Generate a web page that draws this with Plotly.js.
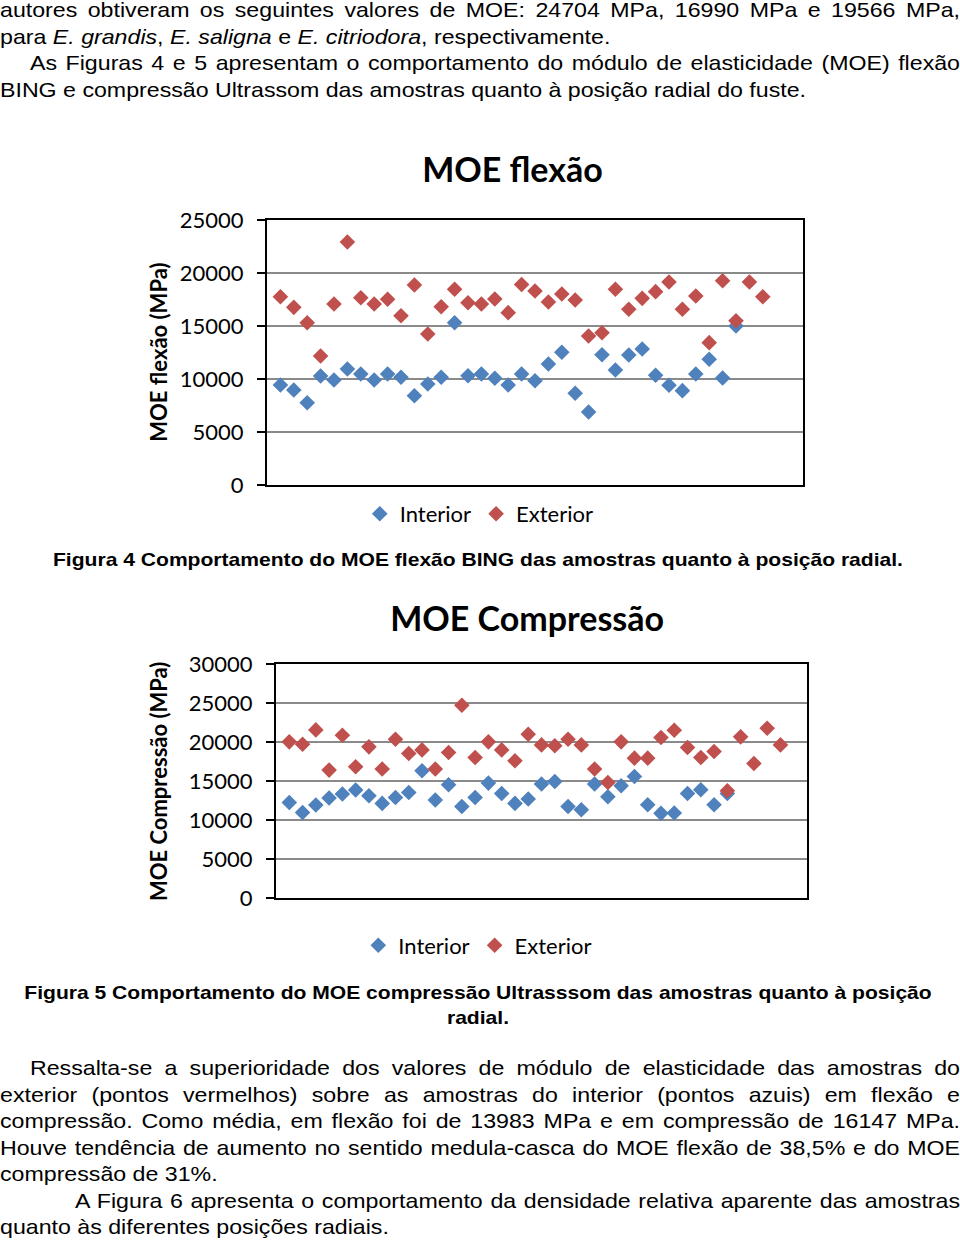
<!DOCTYPE html>
<html><head><meta charset="utf-8">
<script src="https://cdn.plot.ly/plotly-3.0.1.min.js"></script>
<style>
body{margin:0;width:960px;height:1244px;background:#fff;position:relative;overflow:hidden;font-family:"Liberation Sans",Arial,sans-serif;color:#000}
.blk{position:absolute;left:0;transform-origin:0 0;}
.ln{height:26.5px;line-height:26.5px;font-size:21px;white-space:normal;overflow:visible}
.j{text-align:justify;text-align-last:justify;}
.cap{position:absolute;left:0;transform-origin:0 0;font-weight:bold;font-size:19px;text-align:center;line-height:25px}
.chart{position:absolute;left:0;width:960px}
</style></head>
<body>
<div class="blk" id="p1" style="top:-3px">
  <div class="ln j">autores obtiveram os seguintes valores de MOE: 24704 MPa, 16990 MPa e 19566 MPa,</div>
  <div class="ln">para <i>E. grandis</i>, <i>E. saligna</i> e <i>E. citriodora</i>, respectivamente.</div>
  <div class="ln j ind1">As Figuras 4 e 5 apresentam o comportamento do módulo de elasticidade (MOE) flexão</div>
  <div class="ln" id="ref">BING e compressão Ultrassom das amostras quanto à posição radial do fuste.</div>
</div>
<div id="c1" class="chart" style="top:130px;height:420px"></div>
<div class="cap" id="cap4" style="top:547px">Figura 4 Comportamento do MOE flexão BING das amostras quanto à posição radial.</div>
<div id="c2" class="chart" style="top:590px;height:390px"></div>
<div class="cap" id="cap5" style="top:980px">Figura 5 Comportamento do MOE compressão Ultrasssom das amostras quanto à posição<br>radial.</div>
<div class="blk" id="p2" style="top:1055px">
  <div class="ln j ind1">Ressalta-se a superioridade dos valores de módulo de elasticidade das amostras do</div>
  <div class="ln j">exterior (pontos vermelhos) sobre as amostras do interior (pontos azuis) em flexão e</div>
  <div class="ln j">compressão. Como média, em flexão foi de 13983 MPa e em compressão de 16147 MPa.</div>
  <div class="ln j">Houve tendência de aumento no sentido medula-casca do MOE flexão de 38,5% e do MOE</div>
  <div class="ln">compressão de 31%.</div>
  <div class="ln j ind2">A Figura 6 apresenta o comportamento da densidade relativa aparente das amostras</div>
  <div class="ln">quanto às diferentes posições radiais.</div>
</div>
<script>
// ---- Data: Figura 4 (MOE flexão, MPa) ----
const flexInteriorX = [1,2,3,4,5,6,7,8,9,10,11,12,13,14,15,16,17,18,19,20,21,22,23,24,25,26,27,28,29,30,31,32,33,34,35];
const flexInterior = [9430,8960,7760,10280,9900,10940,10470,9900,10470,10160,8420,9530,10160,15310,10310,10470,10070,9430,10470,9840,11420,12520,8650,6890,12290,10850,12260,12830,10350,9410,8900,10470,11860,10090,15000];
const flexExteriorX = [1,2,3,4,5,6,7,8,9,10,11,12,13,14,15,16,17,18,19,20,21,22,23,24,25,26,27,28,29,30,31,32,33,34,35,36,37];
const flexExterior = [17760,16760,15310,12170,17080,22930,17670,17080,17520,15970,18870,14250,16820,18460,17200,17080,17550,16260,18920,18300,17260,18020,17450,14060,14370,18460,16580,17610,18240,19150,16580,17830,13430,19270,15500,19150,17760];
// ---- Data: Figura 5 (MOE Compressão, MPa) ----
const compInteriorX = [1,2,3,4,5,6,7,8,9,10,11,12,13,14,15,16,17,18,19,20,21,22,23,24,25,26,27,28,29,30,31,32,33,34];
const compInterior = [12250,10970,11920,12820,13330,13840,13110,12130,12890,13530,16310,12560,14520,11740,12890,14730,13400,12130,12690,14610,14940,11740,11320,14610,12980,14390,15580,11960,10850,10900,13400,13880,11960,13400];
const compExteriorX = [1,2,3,4,5,6,7,8,9,10,11,12,13,14,15,16,17,18,19,20,21,22,23,24,25,26,27,28,29,30,31,32,33,34,35,36,37,38];
const compExterior = [20020,19720,21550,16400,20870,16820,19380,16530,20360,18520,18990,16530,18650,24710,18010,20020,18990,17590,21000,19630,19510,20360,19630,16530,14810,20020,17930,17930,20570,21510,19290,18010,18780,13750,20660,17240,21770,19630];
const seriesNames = ['Interior','Exterior'];
const seriesColors = ['#4F81BD','#C0504D'];

// ---- text scaling to mimic the condensed page font ----
(function(){
  const ref = document.getElementById('ref');
  const span = document.createElement('span');
  span.style.cssText = 'font-size:21px;white-space:nowrap;position:absolute;visibility:hidden;font-family:"Liberation Sans",Arial,sans-serif';
  span.textContent = ref.textContent;
  document.body.appendChild(span);
  const s = 806 / span.getBoundingClientRect().width;
  document.body.removeChild(span);
  ['p1','p2'].forEach(id => {
    const el = document.getElementById(id);
    el.style.width = (960 / s) + 'px';
    el.style.transform = 'scaleX(' + s + ')';
  });
  document.querySelectorAll('.ind1').forEach(e => e.style.paddingLeft = (30 / s) + 'px');
  document.querySelectorAll('.ind2').forEach(e => e.style.paddingLeft = (75 / s) + 'px');
  const sp2 = document.createElement('span');
  sp2.style.cssText = 'font-size:19px;font-weight:bold;white-space:nowrap;position:absolute;visibility:hidden;font-family:"Liberation Sans",Arial,sans-serif';
  sp2.textContent = document.getElementById('cap4').textContent;
  document.body.appendChild(sp2);
  const c = 850 / sp2.getBoundingClientRect().width;
  document.body.removeChild(sp2);
  ['cap4','cap5'].forEach(id => {
    const el = document.getElementById(id);
    el.style.width = (956 / c) + 'px';
    el.style.transform = 'scaleX(' + c + ')';
  });
})();

function traces(xi, yi, xe, ye){
  return [
    {x: xi, y: yi, name: seriesNames[0], type:'scatter', mode:'markers',
     marker:{symbol:'diamond', size:12, color:seriesColors[0], line:{width:0}}},
    {x: xe, y: ye, name: seriesNames[1], type:'scatter', mode:'markers',
     marker:{symbol:'diamond', size:12, color:seriesColors[1], line:{width:0}}}
  ];
}
const font = {family:'Lato, "Open Sans", sans-serif', size:22, color:'#000'};
function layout(o){
  return {
    width:960, height:o.h,
    margin:{l:o.l, r:o.r, t:o.t, b:o.b, pad:0},
    paper_bgcolor:'rgba(0,0,0,0)', plot_bgcolor:'#fff',
    font: font, showlegend:true,
    title:{text:'<b>'+o.title+'</b>', font:{family:font.family, size:34, color:'#000'},
           xref:'paper', x:o.tx, xanchor:'center', yref:'container', y:o.ty, yanchor:'middle'},
    xaxis:{range:[0,40], showgrid:false, zeroline:false, showticklabels:false, ticks:'',
           showline:true, linecolor:'#000', linewidth:2, mirror:true, fixedrange:true},
    yaxis:{range:[0,o.ymax], tick0:0, dtick:5000, tickformat:'d', showgrid:true, gridcolor:'#8a8a8a', gridwidth:1.3,
           zeroline:false, showline:true, linecolor:'#000', linewidth:2, mirror:true,
           ticks:'outside', ticklen:8, tickwidth:1.3, tickcolor:'#000', ticklabelstandoff:o.so,
           tickfont:{size:22}, fixedrange:true},
    legend:{orientation:'h', x:o.lx, xanchor:'center', y:o.ly, yanchor:'middle', font:{size:22},
            bgcolor:'rgba(0,0,0,0)', itemwidth:30},
    annotations:[{text:'<b>'+o.ytitle+'</b>', textangle:-90, xref:'paper', yref:'paper',
                  x:o.yx, y:0.5, xanchor:'center', yanchor:'middle', showarrow:false,
                  font:{family:font.family, size:22, color:'#000'}}]
  };
}
Plotly.newPlot('c1', traces(flexInteriorX, flexInterior, flexExteriorX, flexExterior),
  layout({h:420, l:267, r:157, t:90, b:65, title:'MOE flexão', tx:0.458, ty:0.905,
          ymax:25000, so:9, lx:0.396, ly:-0.109, ytitle:'MOE flexão (MPa)', yx:-0.203}),
  {staticPlot:true, displayModeBar:false});
Plotly.newPlot('c2', traces(compInteriorX, compInterior, compExteriorX, compExterior),
  layout({h:390, l:276, r:153, t:74, b:82, title:'MOE Compressão', tx:0.473, ty:0.926,
          ymax:30000, so:9, lx:0.38, ly:-0.203, ytitle:'MOE Compressão (MPa)', yx:-0.222}),
  {staticPlot:true, displayModeBar:false});
</script>
</body></html>
